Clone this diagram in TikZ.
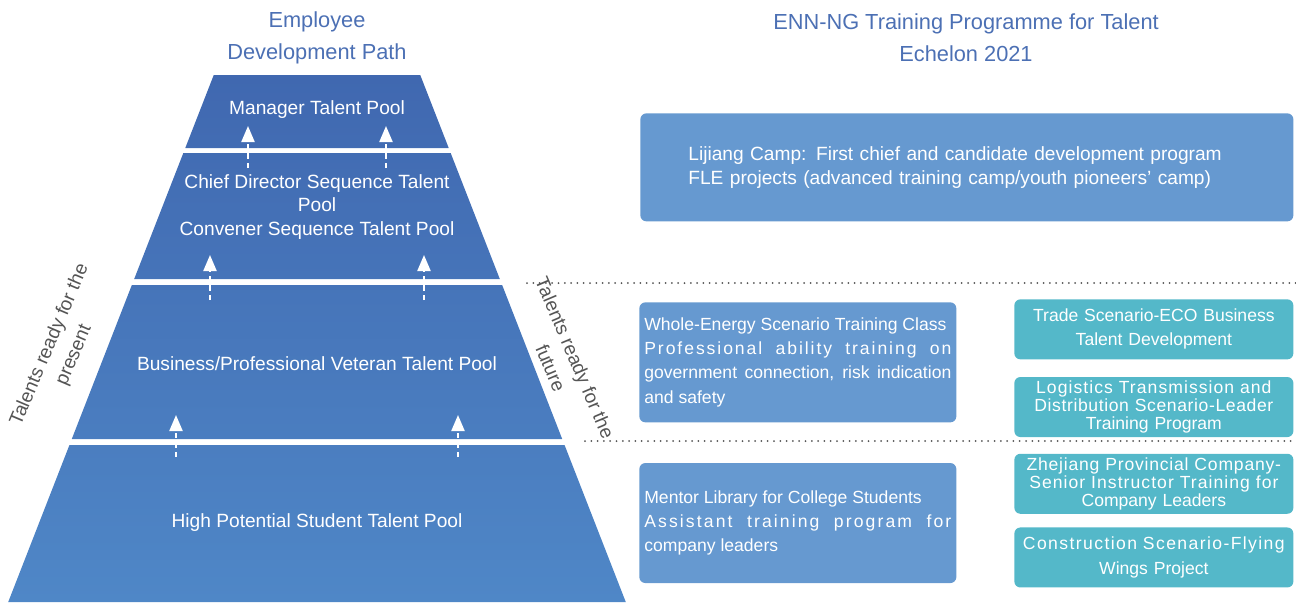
\documentclass[tikz,border=0pt]{standalone}
\usepackage{fontspec}
\setmainfont{Liberation Sans}
\usetikzlibrary{positioning, arrows.meta}
\definecolor{titleblue}{RGB}{76,112,180}
\definecolor{tiertop}{RGB}{64,104,176}
\definecolor{tierbot}{RGB}{79,135,199}
\definecolor{boxblue}{RGB}{102,153,208}
\definecolor{boxteal}{RGB}{84,184,201}
\definecolor{sidegray}{RGB}{85,85,85}
\tikzstyle{titletext}=[text=titleblue, align=center,
font=\fontsize{12.4}{18.2}\selectfont]
\tikzstyle{tiertext}=[text=white, align=center,
font=\fontsize{10.9}{13.5}\selectfont]
\tikzstyle{sidetext}=[text=sidegray, align=center,
font=\fontsize{10.9}{15}\selectfont]
\tikzstyle{bluebox}=[rectangle, rounded corners=1.2mm, fill=boxblue,
text=white, inner xsep=1mm, font=\fontsize{10}{13.7}\selectfont]
\tikzstyle{tealbox}=[rectangle, rounded corners=1.2mm, fill=boxteal,
text=white, align=center, text width=53mm, inner xsep=1.4mm,
inner ysep=0.5mm, minimum height=12mm, font=\fontsize{10}{13.7}\selectfont]
\tikzstyle{tightlines}=[font=\fontsize{10}{10.2}\selectfont]
\tikzstyle{upflow}=[white, line width=0.45mm, dash pattern=on 1.1mm off 0.8mm,
-{Triangle[width=2.6mm,length=3.2mm]}]
\tikzstyle{divider}=[sidegray, line width=0.4mm, line cap=round,
dash pattern=on 0pt off 1.26mm]
\def \slope {0.39}
\newcommand{\tracked}[2]{{\addfontfeature{LetterSpace=#1}#2}}

\begin{document}
\begin{tikzpicture}[x=0.2mm, y=-0.2mm]
    \useasboundingbox (0,0) rectangle (1296,602);

    % pyramid
    \shade[top color=tiertop, bottom color=tierbot]
        \foreach \a/\b in {75/148, 153/279, 285/439, 445/602} {
            ({243-\slope*\a},\a) -- ({391+\slope*\a},\a)
            -- ({391+\slope*\b},\b) -- ({243-\slope*\b},\b) -- cycle
        };

    \node[titletext] (pathtitle) at (317,38) {Employee\\Development Path};
    \node[titletext] (progtitle) at (966,38)
        {ENN-NG Training Programme for Talent\\Echelon 2021};

    \node[tiertext] (manager) at (317,110) {Manager Talent Pool};
    \node[tiertext] (director) at (317,207)
        {Chief Director Sequence Talent\\Pool\\Convener Sequence Talent Pool};
    \node[tiertext] (veteran) at (317,364)
        {Business/Professional Veteran Talent Pool};
    \node[tiertext] (student) at (317,523) {High Potential Student Talent Pool};

    \node[sidetext, rotate=67] (present) at (62,350)
        {Talents ready for the\\present};
    \node[sidetext, rotate=-67] (future) at (563,363)
        {Talents ready for the\\future};

    \foreach \n/\dx/\ys/\ye in {1/69/168/126, 2/107/300/255, 3/141/457/415} {
        \coordinate (lo\n l) at ({317-\dx},\ys);
        \coordinate (hi\n l) at ({317-\dx},\ye);
        \coordinate (lo\n r) at ({317+\dx},\ys);
        \coordinate (hi\n r) at ({317+\dx},\ye);
        \draw[upflow] (lo\n l) -- (hi\n l);
        \draw[upflow] (lo\n r) -- (hi\n r);
    }

    \coordinate (d1a) at (527,283);
    \coordinate (d1b) at (1296,283);
    \coordinate (d2a) at (585,441);
    \coordinate (d2b) at (1296,441);
    \draw[divider] (d1a) -- (d1b);
    \draw[divider] (d2a) -- (d2b);

    % programmes
    \node[bluebox, text width=111.4mm, inner xsep=9.6mm, minimum height=21.6mm,
        align=left, anchor=north west, font=\fontsize{10.9}{13.7}\selectfont]
        (lijiang) at (640,113)
        {Lijiang Camp: First chief and candidate development program\\
        FLE projects (advanced training camp/youth pioneers' camp)};
    \node[bluebox, text width=61.4mm, minimum height=24mm, align=justify,
        anchor=north west] (energy) at (639,302)
        {Whole-Energy Scenario Training Class\par
        \tracked{11}{Professional ability training on}\linebreak
        government connection, risk indication\linebreak and safety};
    \node[bluebox, text width=61.4mm, minimum height=24mm, align=justify,
        below=8mm of energy] (mentor)
        {Mentor Library for College Students\par
        \tracked{12}{Assistant training program for}\linebreak company leaders};

    \node[tealbox, anchor=north west] (trade) at (1014,299)
        {Trade Scenario-ECO Business\\Talent Development};
    \node[tealbox, tightlines, below=3.4mm of trade] (logistics)
        {\tracked{6}{Logistics Transmission and}\\
        \tracked{3.5}{Distribution Scenario-Leader}\\Training Program};
    \node[tealbox, tightlines, below=3.2mm of logistics] (zhejiang)
        {\tracked{4.5}{Zhejiang Provincial Company-}\\
        \tracked{6}{Senior Instructor Training for}\\Company Leaders};
    \node[tealbox, below=2.6mm of zhejiang] (construction)
        {\tracked{8}{Construction Scenario-Flying}\\Wings Project};
\end{tikzpicture}
\end{document}
